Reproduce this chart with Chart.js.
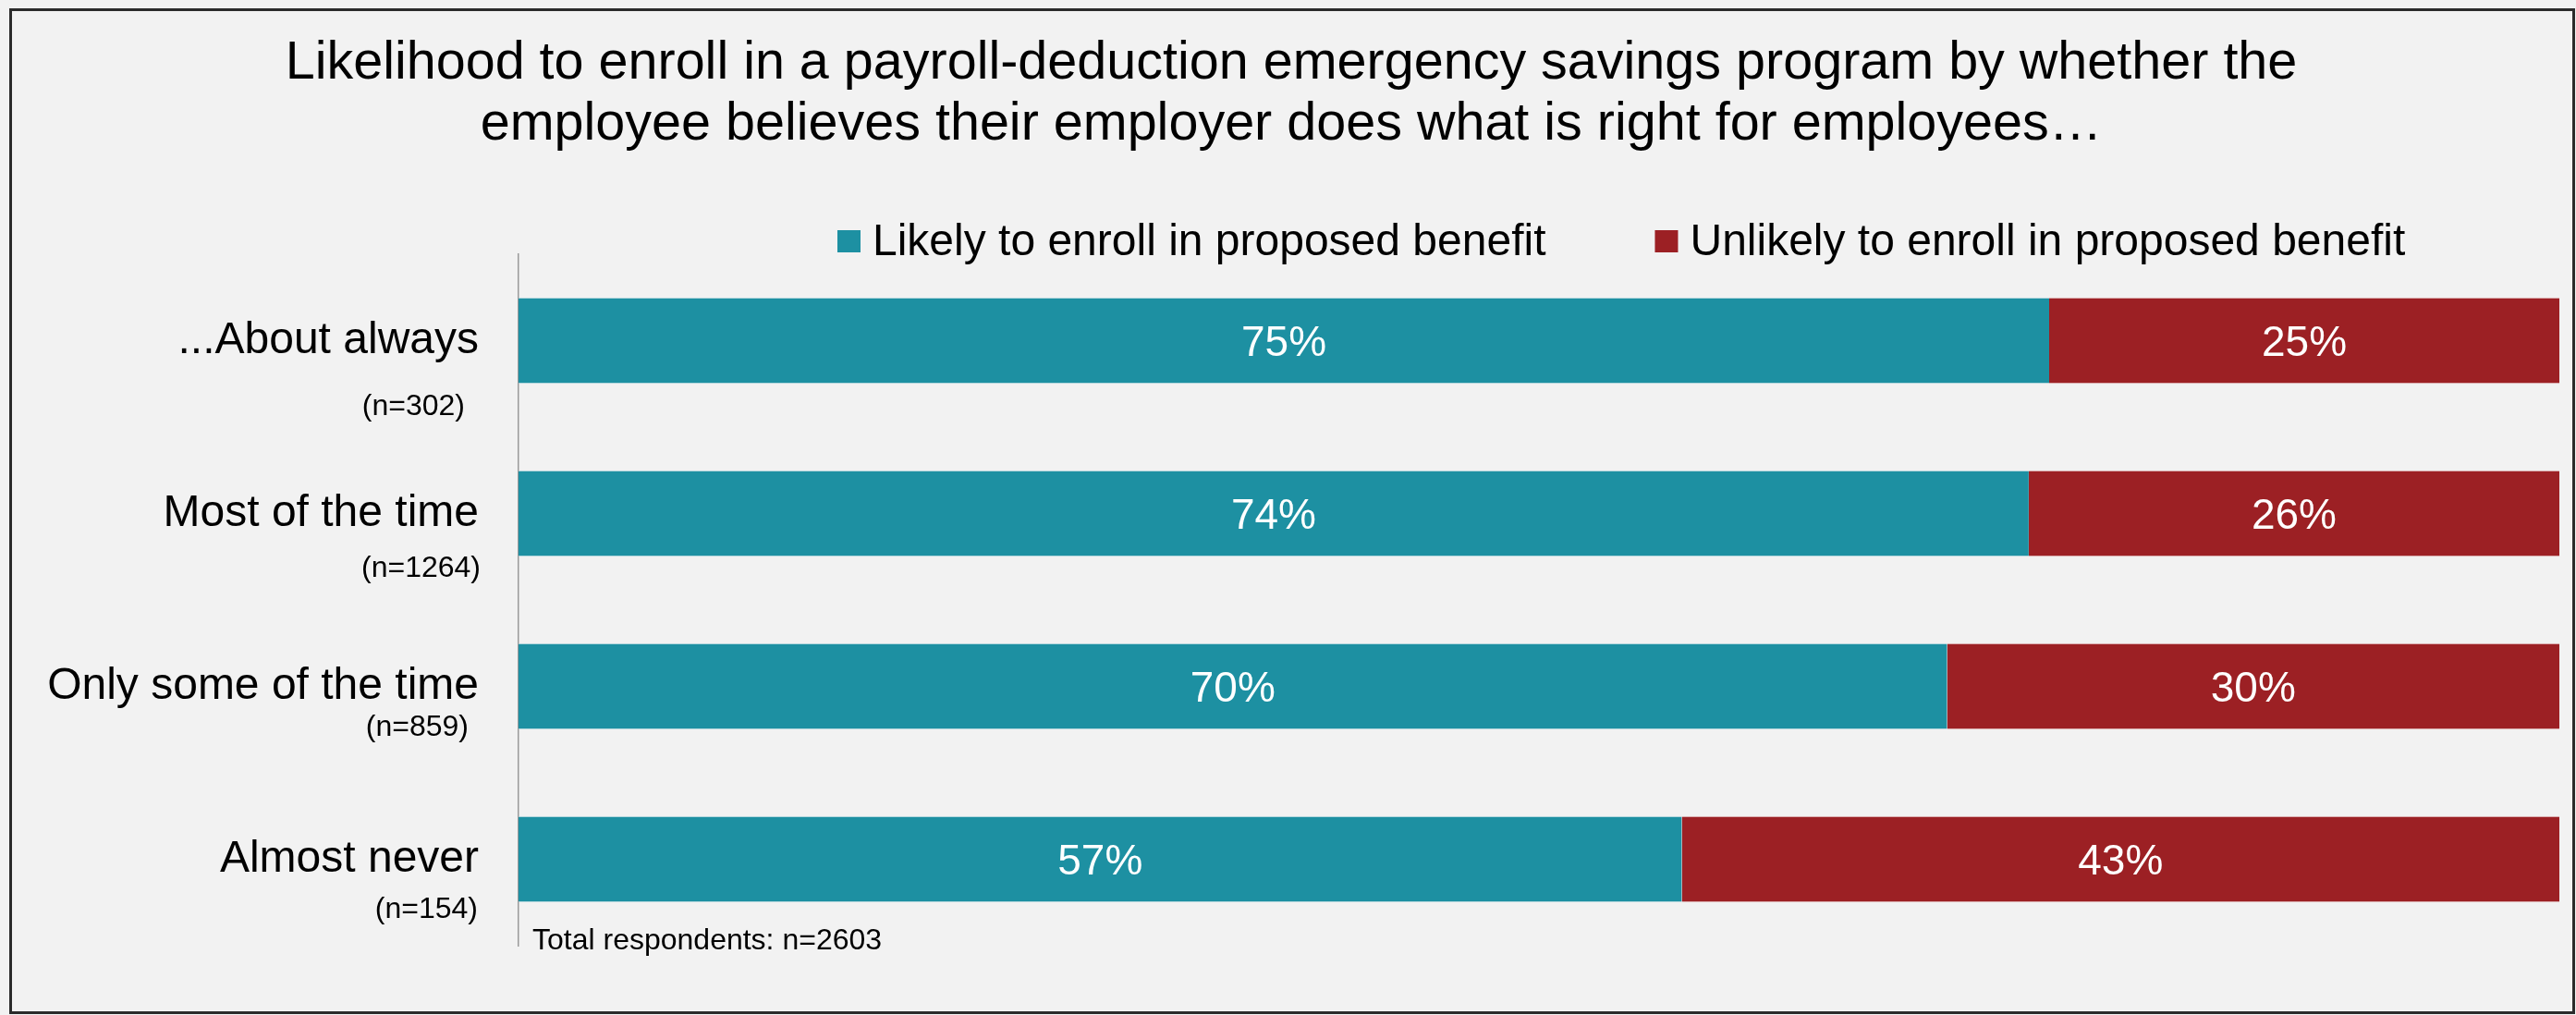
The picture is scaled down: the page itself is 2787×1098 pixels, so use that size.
<!DOCTYPE html>
<html>
<head>
<meta charset="utf-8">
<title>Emergency savings enrollment</title>
<script src="https://cdn.jsdelivr.net/npm/chart.js@4"></script>
<style>
  html, body { margin: 0; padding: 0; background: #f2f2f2; }
  #grafik { display: block; }
</style>
</head>
<body>
<canvas id="grafik" width="2787" height="1098"></canvas>
<script>
// Veriler
const kategoriler = ['...About always', 'Most of the time', 'Only some of the time', 'Almost never'];
const orneklem = [302, 1264, 859, 154];
const olasi = [75, 74, 70, 57];
const olasiDegil = [25, 26, 30, 43];
const seriAdlari = ['Likely to enroll in proposed benefit', 'Unlikely to enroll in proposed benefit'];
const baslikSatirlari = [
  'Likelihood to enroll in a payroll-deduction emergency savings program by whether the',
  'employee believes their employer does what is right for employees\u2026'
];
const dipnot = 'Total respondents: n=2603';

const YAZI = '"Liberation Sans", Arial, Helvetica, sans-serif';
const TEAL = '#1d90a2';
const KIRMIZI = '#9c2024';

// (n=...) etiketlerinin kategori merkezine göre kayması: [eksenden sola, aşağı]
const nKayma = [[58, 80], [41, 68], [54, 53], [44, 63]];

// Çerçeve, başlık, gösterge ve dipnot
const susleme = {
  id: 'susleme',
  beforeDraw(chart) {
    const c = chart.ctx;
    c.save();
    c.fillStyle = '#f2f2f2';
    c.fillRect(0, 0, chart.width, chart.height);
    c.restore();
  },
  afterDraw(chart) {
    const c = chart.ctx;
    const alan = chart.chartArea;
    c.save();

    // dış çerçeve
    c.strokeStyle = '#2b2b2b';
    c.lineWidth = 3;
    c.strokeRect(11.5, 10.5, 2773, 1085);

    // başlık
    c.fillStyle = '#000';
    c.font = '57.5px ' + YAZI;
    c.textAlign = 'center';
    c.textBaseline = 'alphabetic';
    baslikSatirlari.forEach((s, i) => c.fillText(s, 1397, 85 + i * 66));

    // gösterge
    c.font = '48px ' + YAZI;
    c.textAlign = 'left';
    let x = 906;
    chart.data.datasets.forEach((ds, i) => {
      c.fillStyle = ds.backgroundColor;
      c.fillRect(x, 249, 25, 24);
      c.fillStyle = '#000';
      c.fillText(ds.label, x + 38, 276);
      x += 38 + c.measureText(ds.label).width + 118;
    });

    // örneklem büyüklükleri
    const yEks = chart.scales.y;
    c.font = '32px ' + YAZI;
    c.textAlign = 'right';
    orneklem.forEach((n, i) => {
      const yy = yEks.getPixelForValue(i) + nKayma[i][1];
      c.fillText('(n=' + n + ')', alan.left - nKayma[i][0], yy);
    });

    // dipnot
    c.font = '32px ' + YAZI;
    c.textAlign = 'left';
    c.fillText(dipnot, alan.left + 15, 1027);

    c.restore();
  }
};

// Çubuk içi yüzde etiketleri
const yuzdeEtiketi = {
  id: 'yuzdeEtiketi',
  afterDatasetsDraw(chart) {
    const c = chart.ctx;
    const boyut = 46;
    c.save();
    c.fillStyle = '#fff';
    c.font = boyut + 'px ' + YAZI;
    c.textAlign = 'center';
    c.textBaseline = 'alphabetic';
    chart.data.datasets.forEach((ds, di) => {
      chart.getDatasetMeta(di).data.forEach((el, i) => {
        const p = el.getCenterPoint();
        c.fillText(ds.data[i] + '%', p.x, p.y + boyut * 0.716 / 2);
      });
    });
    c.restore();
  }
};

const kenar = { top: 1, bottom: 1, left: 0, right: 0 };

new Chart(document.getElementById('grafik'), {
  type: 'bar',
  data: {
    labels: kategoriler,
    datasets: [
      { label: seriAdlari[0], data: olasi, backgroundColor: TEAL,
        borderColor: 'rgba(220,235,238,0.7)', borderWidth: kenar, borderSkipped: false },
      { label: seriAdlari[1], data: olasiDegil, backgroundColor: KIRMIZI,
        borderColor: 'rgba(235,200,200,0.7)', borderWidth: kenar, borderSkipped: false }
    ]
  },
  options: {
    indexAxis: 'y',
    responsive: false,
    animation: false,
    layout: { padding: { top: 275, bottom: 75, left: 0, right: 18 } },
    datasets: { bar: { categoryPercentage: 1, barPercentage: 0.5 } },
    scales: {
      x: { stacked: true, min: 0, max: 100, display: false },
      y: {
        stacked: true,
        grid: { display: false, drawTicks: false },
        border: { display: true, color: '#9a9a9a', width: 1.5 },
        ticks: { color: '#000', padding: 43, font: { family: YAZI, size: 48 } },
        afterFit(scale) { scale.width = 561; }
      }
    },
    plugins: {
      legend: { display: false },
      title: { display: false },
      tooltip: { enabled: false }
    }
  },
  plugins: [susleme, yuzdeEtiketi]
});
</script>
</body>
</html>
